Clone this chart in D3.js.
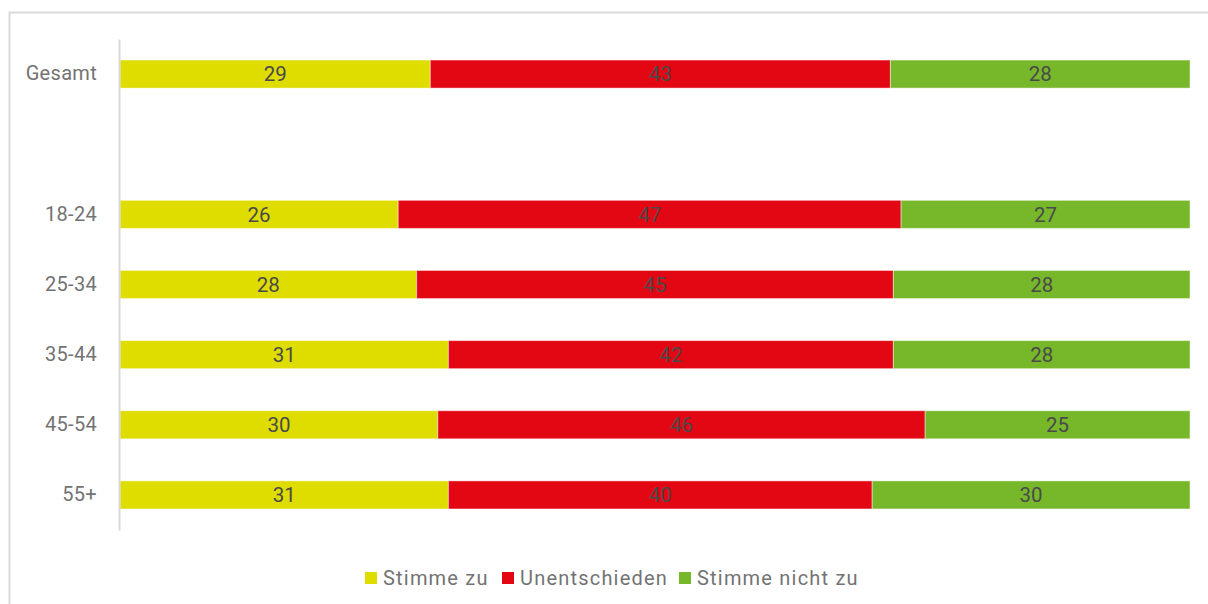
<!DOCTYPE html>
<html>
<head>
<meta charset="utf-8">
<script src="https://cdn.jsdelivr.net/npm/d3@7"></script>
<style>
  html, body { margin: 0; padding: 0; background: #ffffff; }
  svg { display: block; }
  text { font-family: "Roboto", "Liberation Sans", sans-serif; }
</style>
</head>
<body>
<svg id="chart" width="1208" height="604"></svg>
<script>
// Age groups; the blank entry leaves a gap below the overall row
const categories = ["Gesamt", " ", "18-24", "25-34", "35-44", "45-54", "55+"];
const seriesNames = ["Stimme zu", "Unentschieden", "Stimme nicht zu"];
const agree     = [29, null, 26, 28, 31, 30, 31];
const undecided = [43, null, 47, 45, 42, 46, 40];
const disagree  = [28, null, 27, 28, 28, 25, 30];
const colors = ["#dfdc00", "#e30613", "#77b82a"];

const svg = d3.select("#chart");
const W = 1208, H = 604;

// outer frame
svg.append("rect")
  .attr("x", 9.5).attr("y", 12.5)
  .attr("width", W + 20).attr("height", H + 20)
  .attr("fill", "none").attr("stroke", "#d9d9d9").attr("stroke-width", 2);

const x0 = 120, x1 = 1190, yTop = 39, yBot = 530;

const rows = categories.map((c, i) => ({
  cat: c,
  vals: [agree[i], undecided[i], disagree[i]]
})).filter(r => r.vals[0] !== null);

const y = d3.scaleBand().domain(categories).range([yTop, yBot]).paddingInner(0.6).paddingOuter(0.3);

// each row is drawn as shares of its own total
const x = d3.scaleLinear().domain([0, 1]).range([x0, x1]);

const g = svg.append("g");
rows.forEach(r => {
  const total = d3.sum(r.vals);
  let acc = 0;
  r.vals.forEach((v, k) => {
    const start = acc / total;
    acc += v;
    const end = acc / total;
    g.append("rect")
      .attr("x", x(start)).attr("y", y(r.cat))
      .attr("width", x(end) - x(start)).attr("height", y.bandwidth())
      .attr("fill", colors[k])
      .attr("stroke", "rgba(255,255,255,0.45)").attr("stroke-width", 1);
    g.append("text")
      .attr("x", (x(start) + x(end)) / 2)
      .attr("y", y(r.cat) + y.bandwidth() / 2)
      .attr("dy", "0.36em")
      .attr("text-anchor", "middle")
      .attr("font-size", 20.5)
      .attr("fill", "#4a4a4a")
      .text(v);
  });
});

// category axis
const axis = d3.axisLeft(y).tickSize(0).tickPadding(22);
const ax = svg.append("g").attr("transform", `translate(${x0 - 1},0)`).call(axis);
ax.select(".domain").attr("stroke", "#d9d9d9").attr("stroke-width", 2);
ax.selectAll("text").attr("font-size", 20).attr("fill", "#737373")
  .attr("font-family", "Roboto, sans-serif").attr("letter-spacing", "0.3px");

// legend
const legendItems = [
  { name: seriesNames[0], color: colors[0], x: 365 },
  { name: seriesNames[1], color: colors[1], x: 502 },
  { name: seriesNames[2], color: colors[2], x: 679 }
];
const lg = svg.append("g");
legendItems.forEach(d => {
  lg.append("rect").attr("x", d.x).attr("y", 572).attr("width", 12).attr("height", 12).attr("fill", d.color);
  lg.append("text").attr("x", d.x + 18).attr("y", 578).attr("dy", "0.36em")
    .attr("font-size", 20).attr("letter-spacing", "1.2px")
    .attr("fill", "#737373").text(d.name);
});
</script>
</body>
</html>
